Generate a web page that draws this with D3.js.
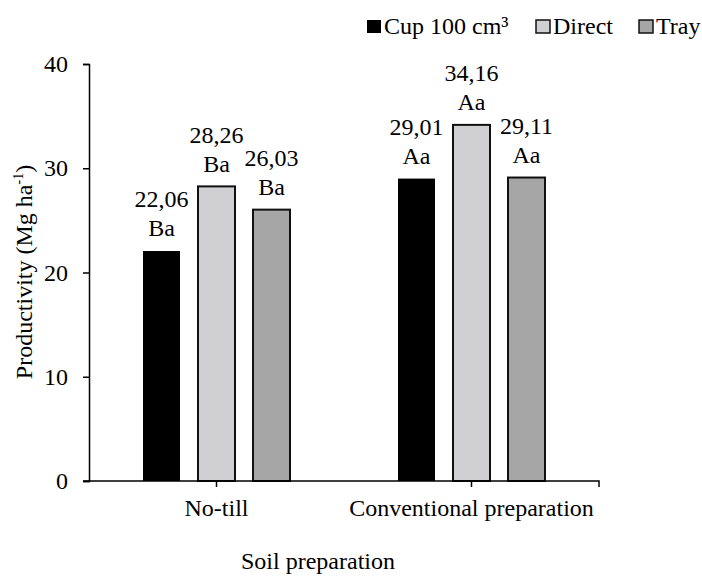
<!DOCTYPE html>
<html>
<head>
<meta charset="utf-8">
<script src="https://cdn.jsdelivr.net/npm/d3@7/dist/d3.min.js"></script>
<style>
  html, body { margin: 0; padding: 0; background: #fff; }
</style>
</head>
<body>
<svg id="chart" width="702" height="577"></svg>
<script>
const categories = ["No-till", "Conventional preparation"];
const series = ["Cup 100 cm³", "Direct", "Tray"];
const cupValues = [22.06, 29.01];
const directValues = [28.26, 34.16];
const trayValues = [26.03, 29.11];
const cupLetters = ["Ba", "Aa"];
const directLetters = ["Ba", "Aa"];
const trayLetters = ["Ba", "Aa"];
const yTicks = [0, 10, 20, 30, 40];
const colors = ["#000000", "#d0cfd1", "#a6a6a6"];

const valuesBySeries = [cupValues, directValues, trayValues];
const lettersBySeries = [cupLetters, directLetters, trayLetters];

const FONT = "'Liberation Serif'";
const svg = d3.select("#chart");
const fontSize = 24;

const x0 = d3.scaleBand().domain(categories).range([89, 599]).paddingInner(0).paddingOuter(0);
const x1 = d3.scaleBand().domain(series).range([-73.5, 73.5]).paddingInner(18 / 55).paddingOuter(0);
const y = d3.scaleLinear().domain([0, 40]).range([481, 64]);

const fmt = v => v.toFixed(2).replace(".", ",");

const rows = [];
categories.forEach((c, ci) => {
  series.forEach((s, si) => {
    rows.push({ cat: c, ser: s, si, value: valuesBySeries[si][ci], letter: lettersBySeries[si][ci] });
  });
});

svg.append("g").selectAll("rect").data(rows).join("rect")
  .attr("x", d => x0(d.cat) + x0.bandwidth() / 2 + x1(d.ser))
  .attr("y", d => y(d.value))
  .attr("width", x1.bandwidth())
  .attr("height", d => y(0) - y(d.value))
  .attr("fill", d => colors[d.si])
  .attr("stroke", d => d.si === 0 ? "none" : "#111")
  .attr("stroke-width", 2);

const lg = svg.append("g").attr("text-anchor", "middle");
lg.selectAll("text.v").data(rows).join("text").attr("class", "v")
  .attr("x", d => x0(d.cat) + x0.bandwidth() / 2 + x1(d.ser) + x1.bandwidth() / 2)
  .attr("y", d => y(d.value) - 52)
  .attr("dy", "0.35em")
  .text(d => fmt(d.value));
lg.selectAll("text.l").data(rows).join("text").attr("class", "l")
  .attr("x", d => x0(d.cat) + x0.bandwidth() / 2 + x1(d.ser) + x1.bandwidth() / 2)
  .attr("y", d => y(d.value) - 23)
  .attr("dy", "0.35em")
  .text(d => d.letter);

const yAxis = svg.append("g").attr("transform", "translate(89,0)")
  .call(d3.axisLeft(y).tickValues(yTicks).tickSize(6).tickSizeOuter(6).tickPadding(15).tickFormat(d3.format("d")));
yAxis.selectAll("path, line").attr("stroke", "#000").attr("stroke-width", 1.5);

const xAxis = svg.append("g").attr("transform", "translate(0,481)")
  .call(d3.axisBottom(x0).tickSize(6).tickSizeOuter(0).tickPadding(12));
xAxis.select(".domain").attr("d", `M83,0H${x0.range()[1]}V6`);
xAxis.selectAll("path, line").attr("stroke", "#000").attr("stroke-width", 1.5);

svg.append("text").attr("x", 318).attr("y", 569).attr("text-anchor", "middle").text("Soil preparation");

const yt = svg.append("text").attr("transform", "translate(32,272) rotate(-90)").attr("text-anchor", "middle");
yt.append("tspan").text("Productivity (Mg ha");
yt.append("tspan").attr("class", "sup").attr("dy", -9).text("-1");
yt.append("tspan").attr("dy", 9).text(")");

const legendX = [367, 536, 639];
const leg = svg.append("g");
series.forEach((s, i) => {
  const g = leg.append("g").attr("transform", `translate(${legendX[i]},20)`);
  g.append("rect").attr("width", 14).attr("height", 13)
    .attr("fill", colors[i]).attr("stroke", i === 0 ? "none" : "#111").attr("stroke-width", 1.5);
  g.append("text").attr("x", 17).attr("y", 14).text(s);
});

svg.selectAll("text").attr("font-family", FONT).attr("font-size", fontSize).attr("fill", "#000");
yt.select("tspan.sup").attr("font-size", 14);
</script>
</body>
</html>
